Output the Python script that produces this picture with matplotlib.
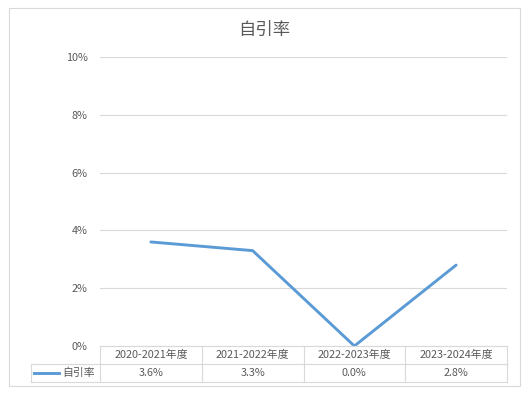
import matplotlib
matplotlib.use("Agg")
import matplotlib.pyplot as plt
from matplotlib.patches import Rectangle
from matplotlib.transforms import blended_transform_factory

plt.rcParams['font.family'] = ['Noto Sans CJK SC', 'DejaVu Sans']

# données
categories = ["2020-2021年度", "2021-2022年度", "2022-2023年度", "2023-2024年度"]
valeurs = [3.6, 3.3, 0.0, 2.8]
libelles = ["3.6%", "3.3%", "0.0%", "2.8%"]
serie = "自引率"
yticks = [0, 2, 4, 6, 8, 10]

W, H = 529, 395
fig = plt.figure(figsize=(W / 100, H / 100), dpi=100)

# cadre extérieur
fig.patches.append(Rectangle((9 / W, 1 - 386 / H), 511 / W, 378 / H,
                             transform=fig.transFigure, fill=False,
                             edgecolor="#d9d9d9", linewidth=0.8))

left, right, top, bottom = 100, 507, 57, 346
ax = fig.add_axes([left / W, 1 - bottom / H, (right - left) / W, (bottom - top) / H])

x = list(range(len(categories)))
ax.plot(x, valeurs, color="#5b9bd5", linewidth=2.1, solid_capstyle="round")
ax.set_xlim(-0.5, len(categories) - 0.5)
ax.set_ylim(0, 10)
ax.set_yticks(yticks)
ax.set_yticklabels([f"{v}%" for v in yticks], color="#595959", fontsize=7.8)
ax.tick_params(axis="y", length=0, pad=9)
ax.set_xticks([])
ax.grid(axis="y", color="#d9d9d9", linewidth=0.8)
for s in ax.spines.values():
    s.set_visible(False)
ax.set_axisbelow(True)

fig.text(0.5, 1 - 30 / H, serie, ha="center", va="center", fontsize=12.5, color="#595959")

# table de données sous l'axe
trans = blended_transform_factory(ax.transData, ax.transAxes)
h_ax = bottom - top
row = 18 / h_ax
gris = "#d9d9d9"
lw = 0.8
# lignes horizontales
ax.plot([-0.5, 3.5], [0, 0], transform=trans, color=gris, lw=lw, clip_on=False)
leg_left = -0.5 - (left - 31) / ((right - left) / 4)
ax.plot([leg_left, 3.5], [-row, -row], transform=trans, color=gris, lw=lw, clip_on=False)
ax.plot([leg_left, 3.5], [-2 * row, -2 * row], transform=trans, color=gris, lw=lw, clip_on=False)
# lignes verticales
for i in range(len(categories) + 1):
    ax.plot([i - 0.5, i - 0.5], [0, -2 * row], transform=trans, color=gris, lw=lw, clip_on=False)
ax.plot([leg_left, leg_left], [-row, -2 * row], transform=trans, color=gris, lw=lw, clip_on=False)

for i, (c, l) in enumerate(zip(categories, libelles)):
    ax.text(i, -row / 2, c, transform=trans, ha="center", va="center",
            fontsize=7.8, color="#595959")
    ax.text(i, -1.5 * row, l, transform=trans, ha="center", va="center",
            fontsize=7.8, color="#595959")

# légende dans la table
ax.plot([leg_left + 0.03, leg_left + 0.28], [-1.5 * row, -1.5 * row], transform=trans,
        color="#5b9bd5", lw=2.1, clip_on=False)
ax.text(leg_left + 0.31, -1.5 * row, serie, transform=trans, ha="left", va="center",
        fontsize=7.8, color="#595959")

fig.savefig("out.png", dpi=100)
